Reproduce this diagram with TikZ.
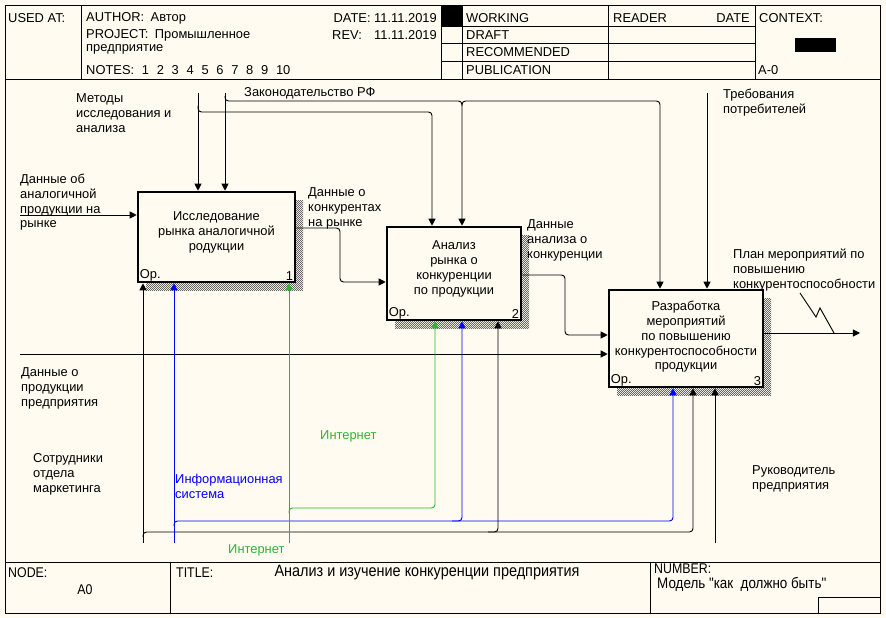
\documentclass[tikz,border=0pt]{standalone}
\usepackage{fontspec}
\setmainfont{Liberation Sans}
\newfontfamily\narrowfont[FakeStretch=0.88]{Liberation Sans}
\usetikzlibrary{arrows.meta,patterns}
\definecolor{idefpaper}{HTML}{FFFBF0}
\definecolor{idefgreen}{HTML}{2DB52D}
\definecolor{idefblue}{HTML}{0000FF}
\pgfdeclarepatternformonly{idefshade}{\pgfpointorigin}{\pgfqpoint{1.7pt}{1.7pt}}{\pgfqpoint{1.7pt}{1.7pt}}{%
  \pgfpathrectangle{\pgfpointorigin}{\pgfqpoint{0.85pt}{0.85pt}}%
  \pgfpathrectangle{\pgfqpoint{0.85pt}{0.85pt}}{\pgfqpoint{0.85pt}{0.85pt}}%
  \pgfusepath{fill}}

\begin{document}
\begin{tikzpicture}[x=0.03cm,y=-0.03cm,
  every node/.style={inner sep=0pt},
  txt/.style={font=\fontsize{11}{12.75}\selectfont,align=left,anchor=north west},
  one/.style={font=\fontsize{11}{12.75}\selectfont,anchor=west},
  boxtxt/.style={font=\fontsize{11}{12.75}\selectfont,align=center,anchor=north},
  nar/.style={font=\narrowfont\fontsize{12}{13}\selectfont,anchor=west},
  frame/.style={line width=0.8pt},
  func/.style={draw,line width=2.2pt,fill=idefpaper},
  shade/.style={pattern=idefshade,pattern color=black!60},
  flow/.style={line width=0.8pt,rounded corners=3pt,-{Triangle[length=6pt,width=6pt]}},
  squig/.style={line width=0.8pt}
]
\path[use as bounding box,fill=idefpaper] (0,0) rectangle (886,618);

% form
\draw[frame] (5,5) rectangle (880,613);
\draw[frame] (5,79) -- (880,79);
\draw[frame] (5,562) -- (880,562);
\draw[frame] (81,5) -- (81,79);
\fill (441,5) rectangle (462,26);
\foreach \x in {441,462,608,755} \draw[frame] (\x,5) -- (\x,79);
\foreach \y in {26,43,61} \draw[frame] (441,\y) -- (755,\y);
\fill (795,38) rectangle (836,52);
\draw[frame] (170,562) -- (170,613);
\draw[frame] (650,562) -- (650,613);
\draw[frame] (818,613) -- (818,597) -- (880,597);

\node[one] (usedat) at (8,18) {USED AT:};
\node[one] (author) at (86,18) {AUTHOR:\enspace Автор};
\node[one] (project) at (86,35) {PROJECT:\enspace Промышленное};
\node[one] (project2) at (86,49) {предприятие};
\node[one] (notes) at (86,70) {NOTES:\hspace{0.6em}1\hspace{0.6em}2\hspace{0.6em}3\hspace{0.6em}4\hspace{0.6em}5\hspace{0.6em}6\hspace{0.6em}7\hspace{0.6em}8\hspace{0.6em}9\hspace{0.6em}10};
\node[one,anchor=east] (date) at (437,18) {DATE: 11.11.2019};
\node[one] (rev) at (332,35) {REV:};
\node[one,anchor=east] (revdate) at (437,35) {11.11.2019};
\node[one] (working) at (466,18) {WORKING};
\node[one] (draft) at (466,35) {DRAFT};
\node[one] (recom) at (466,52) {RECOMMENDED};
\node[one] (publ) at (466,70) {PUBLICATION};
\node[one] (reader) at (613,18) {READER};
\node[one,anchor=east] (rdate) at (750,18) {DATE};
\node[one] (context) at (759,18) {CONTEXT:};
\node[one] (ctxnode) at (758,70) {A-0};

\node[nar] (lnode) at (8,573) {NODE:};
\node[nar,anchor=center] (lnodeval) at (85,590) {A0};
\node[nar] (ltitle) at (176,573) {TITLE:};
\node[nar,anchor=center,font=\narrowfont\fontsize{14}{15}\selectfont] (ltitleval) at (427,573) {Анализ и изучение конкуренции предприятия};
\node[nar] (lnum) at (654,569) {NUMBER:};
\node[nar,font=\narrowfont\fontsize{13}{14}\selectfont] (lnumval) at (657,584) {Модель "как\ \ должно быть"};

% functions
\fill[shade] (146,200) rectangle (303,290);
\fill[shade] (395,235) rectangle (529,328);
\fill[shade] (617,298) rectangle (771,395);
\node[func,minimum width=4.71cm,minimum height=2.7cm] (b1) at (216.5,237) {};
\node[func,minimum width=4.02cm,minimum height=2.79cm] (b2) at (454,273.5) {};
\node[func,minimum width=4.62cm,minimum height=2.91cm] (b3) at (686,338.5) {};
\node[boxtxt] (t1) at (216.5,211.5) {Исследование\\рынка аналогичной\\родукции};
\node[boxtxt] (t2) at (454,240.5) {Анализ\\рынка о\\конкуренции\\по продукции};
\node[boxtxt] (t3) at (686,300.5) {Разработка\\мероприятий\\по повышению\\конкурентоспособности\\продукции};
\node[one,anchor=south west] (op1) at ([shift={(2.5pt,2pt)}]b1.south west) {Ор.};
\node[one,anchor=south east] (n1) at ([shift={(-2.5pt,2pt)}]b1.south east) {1};
\node[one,anchor=south west] (op2) at ([shift={(2.5pt,2pt)}]b2.south west) {Ор.};
\node[one,anchor=south east] (n2) at ([shift={(-2.5pt,2pt)}]b2.south east) {2};
\node[one,anchor=south west] (op3) at ([shift={(2.5pt,2pt)}]b3.south west) {Ор.};
\node[one,anchor=south east] (n3) at ([shift={(-2.5pt,2pt)}]b3.south east) {3};

% inputs and outputs
\coordinate (in1) at (20,215);
\coordinate (in2) at (20,354);
\coordinate (out) at (860,333);
\draw[flow] (in1) -- (in1 -| b1.west);
\draw[flow] (in2) -- (in2 -| b3.west);
\draw[flow] (b1.east |- 0,228) -- (340,228) -- (340,282) -- (b2.west |- 0,282);
\draw[flow] (b2.east |- 0,275) -- (565,275) -- (565,335) -- (b3.west |- 0,335);
\draw[flow] (b3.east |- out) -- (out);
\draw[squig] (800,293) -- (816,317) -- (820,308) -- (834,333);

% controls
\coordinate (c1) at (198,93);
\coordinate (c2) at (225,93);
\coordinate (c3) at (707,93);
\draw[flow] (c1) -- (c1 |- b1.north);
\draw[flow] (c2) -- (c2 |- b1.north);
\draw[flow] (198,106) -- (198,112) -- (432,112) -- (432,0 |- b2.north);
\draw[flow] (225,96) -- (225,101) -- (462,101) -- (462,0 |- b2.north);
\draw[flow] (462,106) -- (462,101) -- (660,101) -- (660,0 |- b3.north);
\draw[flow] (c3) -- (c3 |- b3.north);

% mechanisms
\coordinate (m1) at (143,543);
\coordinate (m2) at (174,543);
\coordinate (m3) at (289,543);
\coordinate (m4) at (715,543);
\draw[flow] (m1) -- (m1 |- b1.south);
\draw[flow] (143,537) -- (143,532) -- (693,532) -- (693,0 |- b3.south);
\draw[flow] (488,532) -- (498,532) -- (498,0 |- b2.south);
\draw[flow,idefblue] (m2) -- (m2 |- b1.south);
\draw[flow,idefblue] (174,526) -- (174,521) -- (673,521) -- (673,0 |- b3.south);
\draw[flow,idefblue] (452,521) -- (462,521) -- (462,0 |- b2.south);
\draw[flow,idefgreen] (m3) -- (m3 |- b1.south);
\draw[flow,idefgreen] (289,513) -- (289,508) -- (435,508) -- (435,0 |- b2.south);
\draw[flow] (m4) -- (m4 |- b3.south);

% labels
\node[txt] (lmeth) at (76,93.5) {Методы\\исследования и\\анализа};
\node[one] (llaw) at (244,93) {Законодательство РФ};
\node[txt] (lreq) at (723,88.5) {Требования\\потребителей};
\node[txt] (lanal) at (20,173.5) {Данные об\\аналогичной\\продукции на\\рынке};
\node[txt] (lcomp) at (308,187.5) {Данные о\\конкурентах\\на рынке};
\node[txt] (lres) at (527,219.5) {Данные\\анализа о\\конкуренции};
\node[txt] (lplan) at (733,248.5) {План мероприятий по\\повышению\\конкурентоспособности};
\node[txt] (lprod) at (21,367.5) {Данные о\\продукции\\предприятия};
\node[txt] (lstaff) at (33,453.5) {Сотрудники\\отдела\\маркетинга};
\node[txt,text=idefblue] (lis) at (175,473.5) {Информационная\\система};
\node[one,text=idefgreen] (lnet1) at (320,436) {Интернет};
\node[one,text=idefgreen] (lnet2) at (228,550) {Интернет};
\node[txt] (lhead) at (752,465.5) {Руководитель\\предприятия};
\end{tikzpicture}
\end{document}
